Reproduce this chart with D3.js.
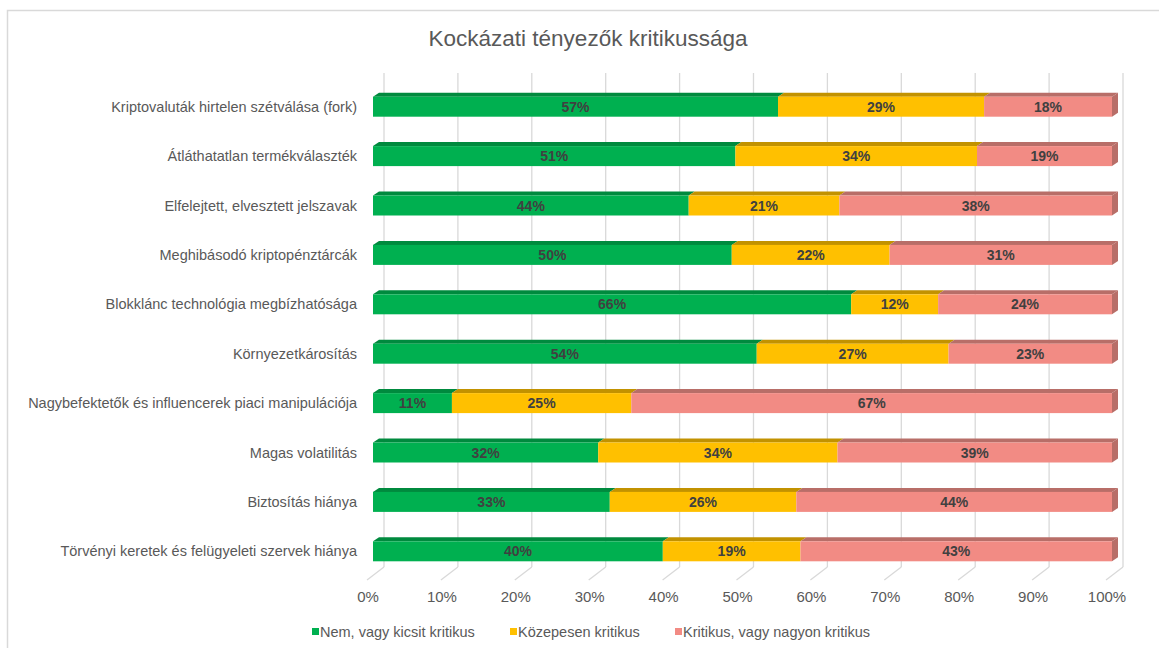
<!DOCTYPE html>
<html>
<head>
<meta charset="utf-8">
<script src="https://cdn.jsdelivr.net/npm/d3@7"></script>
<style>
  body { margin: 0; background: #fff; }
  svg { font-family: "Liberation Sans", Arial, sans-serif; }
</style>
</head>
<body>
<div id="chart"></div>
<script>
// data
const categories = [
    "Kriptovaluták hirtelen szétválása (fork)",
    "Átláthatatlan termékválaszték",
    "Elfelejtett, elvesztett jelszavak",
    "Meghibásodó kriptopénztárcák",
    "Blokklánc technológia megbízhatósága",
    "Környezetkárosítás",
    "Nagybefektetők és influencerek piaci manipulációja",
    "Magas volatilitás",
    "Biztosítás hiánya",
    "Törvényi keretek és felügyeleti szervek hiánya"
];
const seriesNames = ["Nem, vagy kicsit kritikus", "Közepesen kritikus", "Kritikus, vagy nagyon kritikus"];
const lowValues = [57, 51, 44, 50, 66, 54, 11, 32, 33, 40];
const midValues = [29, 34, 21, 22, 12, 27, 25, 34, 26, 19];
const highValues = [18, 19, 38, 31, 24, 23, 67, 39, 44, 43];
const tickValues = [0, 0.1, 0.2, 0.3, 0.4, 0.5, 0.6, 0.7, 0.8, 0.9, 1];

const frontColors = ["#00B050", "#FFC000", "#F28B84"];
const topColors = ["#008A3E", "#C29200", "#B86E68"];

const W = 1159, H = 648;
const svg = d3.select("#chart").append("svg")
    .attr("width", W).attr("height", H);

// chart border
svg.append("rect")
    .attr("x", 7.5).attr("y", 10.5)
    .attr("width", W + 10).attr("height", H + 10)
    .attr("fill", "#fff")
    .attr("stroke", "#d9d9d9").attr("stroke-width", 1.5);

svg.append("text")
    .attr("x", 588).attr("y", 46)
    .attr("text-anchor", "middle")
    .attr("font-size", 22.5)
    .attr("fill", "#595959")
    .text("Kockázati tényezők kritikussága");

// 3d offsets
const floorFront = {dx: -6, dy: 580};
const backOff = {dx: 11, dy: 567};
const depth = {dx: 6, dy: -4};
const barH = 20;

const x = d3.scaleLinear().domain([0, 1]).range([373, 1112]);
const y = d3.scaleBand().domain(categories).range([82, 576]).paddingInner(0).paddingOuter(0);

// back wall gridlines
svg.append("g").selectAll("line.grid")
    .data(tickValues)
    .enter().append("line")
    .attr("class", "grid")
    .attr("x1", (d) => x(d) + backOff.dx).attr("x2", (d) => x(d) + backOff.dx)
    .attr("y1", 73).attr("y2", backOff.dy)
    .attr("stroke", "#d9d9d9").attr("stroke-width", 1.3);

// floor lines
svg.append("g").selectAll("line.floor")
    .data(tickValues)
    .enter().append("line")
    .attr("x1", (d) => x(d) + floorFront.dx).attr("y1", floorFront.dy)
    .attr("x2", (d) => x(d) + backOff.dx).attr("y2", backOff.dy)
    .attr("stroke", "#d9d9d9").attr("stroke-width", 1.3);

// x tick labels
svg.append("g").selectAll("text")
    .data(tickValues)
    .enter().append("text")
    .attr("x", (d) => x(d) + floorFront.dx + 1)
    .attr("y", 602)
    .attr("text-anchor", "middle")
    .attr("font-size", 15)
    .attr("fill", "#595959")
    .text(d3.format(".0%"));

// category labels
svg.append("g").selectAll("text")
    .data(categories)
    .enter().append("text")
    .attr("x", 357)
    .attr("y", (d) => y(d) + y.bandwidth() / 2 + 5)
    .attr("text-anchor", "end")
    .attr("font-size", 14.5)
    .attr("fill", "#595959")
    .text((d) => d);

// stacked, normalized
const rows = categories.map((c, i) => {
    const vals = [lowValues[i], midValues[i], highValues[i]];
    const total = d3.sum(vals);
    let acc = 0;
    return vals.map((v, k) => {
        const seg = {cat: c, k: k, v: v, x0: acc / total, x1: (acc + v) / total};
        acc += v;
        return seg;
    });
});

const barTop = (c) => y(c) + (y.bandwidth() - barH) / 2;

const bars = svg.append("g");
rows.forEach((segs) => {
    const g = bars.append("g");
    g.selectAll("path.top")
        .data(segs)
        .enter().append("path")
        .attr("fill", (d) => topColors[d.k])
        .attr("d", (d) => {
            const t = barTop(d.cat), a = x(d.x0), b = x(d.x1);
            return `M${a},${t}L${a + depth.dx},${t + depth.dy}L${b + depth.dx},${t + depth.dy}L${b},${t}Z`;
        });
    const last = segs[segs.length - 1];
    g.append("path")
        .attr("fill", topColors[last.k])
        .attr("d", () => {
            const t = barTop(last.cat), b = x(last.x1);
            return `M${b},${t}L${b + depth.dx},${t + depth.dy}L${b + depth.dx},${t + depth.dy + barH}L${b},${t + barH}Z`;
        });
    g.selectAll("rect")
        .data(segs)
        .enter().append("rect")
        .attr("x", (d) => x(d.x0))
        .attr("y", (d) => barTop(d.cat))
        .attr("width", (d) => x(d.x1) - x(d.x0))
        .attr("height", barH)
        .attr("fill", (d) => frontColors[d.k]);
    g.selectAll("text")
        .data(segs)
        .enter().append("text")
        .attr("x", (d) => (x(d.x0) + x(d.x1)) / 2)
        .attr("y", (d) => barTop(d.cat) + barH / 2 + 5)
        .attr("text-anchor", "middle")
        .attr("font-size", 14)
        .attr("font-weight", "bold")
        .attr("fill", "#404040")
        .text((d) => d.v + "%");
});

// legend
const legendX = [312, 510, 675];
const legend = svg.append("g").selectAll("g")
    .data(seriesNames)
    .enter().append("g")
    .attr("transform", (d, i) => `translate(${legendX[i]},632)`);
legend.append("rect")
    .attr("x", 0).attr("y", -4)
    .attr("width", 7).attr("height", 7)
    .attr("fill", (d, i) => frontColors[i]);
legend.append("text")
    .attr("x", 8).attr("y", 5)
    .attr("font-size", 14.5)
    .attr("fill", "#595959")
    .text((d) => d);
</script>
</body>
</html>
